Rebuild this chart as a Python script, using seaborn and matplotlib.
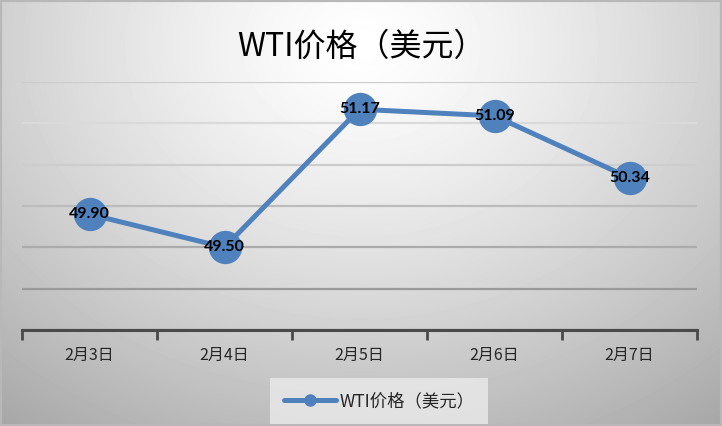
import numpy as np
import pandas as pd
import seaborn as sns
import matplotlib.pyplot as plt
from matplotlib.lines import Line2D
from matplotlib.ticker import MultipleLocator

dates = ['2月3日', '2月4日', '2月5日', '2月6日', '2月7日']
prices = [49.90, 49.50, 51.17, 51.09, 50.34]
series_name = 'WTI价格（美元）'

df = pd.DataFrame({'date': dates, 'price': prices})

sns.set_theme(style='white')
plt.rcParams['font.family'] = ['Noto Sans CJK SC', 'DejaVu Sans']

blue = '#4F81BD'
fig = plt.figure(figsize=(7.22, 4.26), dpi=100)

# radial grey background
bg = fig.add_axes([0, 0, 1, 1], zorder=-10)
yy, xx = np.mgrid[0:426, 0:722]
d = np.sqrt(((xx - 361) / 520.0) ** 2 + ((yy - 45) / 420.0) ** 2)
g = 255 - 75 * np.clip(d, 0, 1.2) ** 1.3
g = np.clip(g, 0, 255) / 255.0
bg.imshow(g, cmap='gray', vmin=0, vmax=1, aspect='auto', interpolation='bilinear')
bg.set_axis_off()
fig.patches.append(plt.Rectangle((0, 0), 1, 1, transform=fig.transFigure,
                                 fill=False, edgecolor='#b8b8b8', lw=3, zorder=5))

ax = fig.add_axes([22 / 722, 96 / 426, 675 / 722, 248 / 426])
ax.set_facecolor('none')

sns.lineplot(data=df, x='date', y='price', ax=ax, color=blue, linewidth=3.6,
             marker='o', markersize=24, markeredgewidth=0, sort=False, zorder=3)

for i, v in enumerate(prices):
    ax.text(i, v, f'{v:.2f}', ha='center', va='center', fontsize=11.5,
            fontweight='bold', color='black', family=['Lato', 'DejaVu Sans'], zorder=4)

ax.set_xlim(-0.5, len(dates) - 0.5)
ax.set_ylim(48.5, 51.5)
ax.yaxis.set_major_locator(MultipleLocator(0.5))
ax.grid(axis='y', linewidth=1.6)
grid_colors = ['#888888', '#888888', '#9a9a9a', '#ababab', '#bcbcbc', '#cdcdcd', '#dadada']
for gl, c in zip(ax.get_ygridlines(), grid_colors):
    gl.set_color(c)
ax.tick_params(axis='y', left=False, labelleft=False)
ax.set_xticks(range(len(dates)))
ax.set_xticklabels(dates, fontsize=11.5)
ax.set_xticks(np.arange(-0.5, len(dates)), minor=True)
ax.tick_params(axis='x', which='major', length=0, pad=12)
ax.tick_params(axis='x', which='minor', bottom=True, length=7, width=2, color='#4a4a4a', direction='out')
ax.set_xlabel('')
ax.set_ylabel('')
for s in ['left', 'right', 'top']:
    ax.spines[s].set_visible(False)
ax.spines['bottom'].set_color('#4a4a4a')
ax.spines['bottom'].set_linewidth(2.2)

fig.text(0.5, 379 / 426, series_name, ha='center', va='center', fontsize=23,
         fontweight='medium', color='black')

handle = Line2D([], [], color=blue, linewidth=3.6, marker='o', markersize=8)
leg = fig.legend(handles=[handle], labels=[series_name], loc='center',
                 bbox_to_anchor=(379 / 722, 25 / 426), frameon=True, fontsize=12.5,
                 fancybox=False, handlelength=3.0, borderpad=0.8, handletextpad=0.2,
                 borderaxespad=0)
leg.get_frame().set_facecolor('#ebebeb')
leg.get_frame().set_edgecolor('none')

fig.savefig('out.png', dpi=100)
